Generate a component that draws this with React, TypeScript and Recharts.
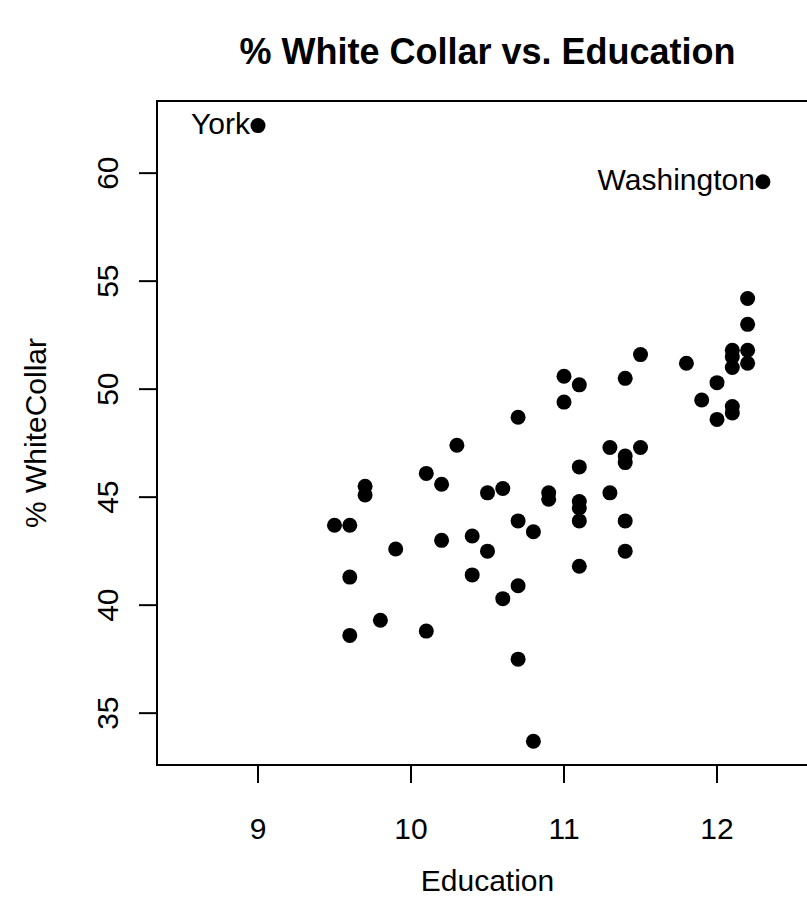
import React from "react";
import {
  ScatterChart, Scatter, XAxis, YAxis, ReferenceArea, Label
} from "recharts";

// county points: education (median years) vs % white collar
const education = [
  11.0, 11.1, 11.0, 10.7, 10.3, 11.1, 10.1, 10.2, 9.7, 9.7,
  10.5, 10.6, 10.9, 10.9, 11.1, 11.1, 11.1, 10.7, 10.8, 9.5,
  9.6, 10.2, 10.4, 10.5, 9.9, 11.1, 9.6, 10.4, 10.7, 10.6,
  9.8, 9.6, 10.1, 10.7, 10.8, 12.2, 12.2, 12.1, 12.1, 12.1,
  12.2, 12.2, 11.5, 11.8, 11.4, 12.0, 11.9, 12.1, 12.1, 12.0,
  11.3, 11.5, 11.4, 11.4, 11.3, 11.4, 11.4, 9.0, 12.3,
];
const whiteCollar = [
  50.6, 50.2, 49.4, 48.7, 47.4, 46.4, 46.1, 45.6, 45.5, 45.1,
  45.2, 45.4, 45.2, 44.9, 44.8, 44.5, 43.9, 43.9, 43.4, 43.7,
  43.7, 43.0, 43.2, 42.5, 42.6, 41.8, 41.3, 41.4, 40.9, 40.3,
  39.3, 38.6, 38.8, 37.5, 33.7, 54.2, 53.0, 51.8, 51.5, 51.0,
  51.8, 51.2, 51.6, 51.2, 50.5, 50.3, 49.5, 49.2, 48.9, 48.6,
  47.3, 47.3, 46.9, 46.6, 45.2, 43.9, 42.5, 62.2, 59.6,
];
const labelled: Record<number, string> = { 57: "York", 58: "Washington" };

const xTicks = [9, 10, 11, 12];
const yTicks = [35, 40, 45, 50, 55, 60];
const xDomain = [8.34, 12.66];
const yDomain = [32.6, 63.34];

const data = education.map((x, i) => ({ x, y: whiteCollar[i], name: labelled[i] }));

const font = "'Liberation Sans', Arial, sans-serif";
const fs = 30;

const Dot = (p: any) => (
  <g>
    <circle cx={p.cx} cy={p.cy} r={7.5} fill="#000" />
    {p.payload.name && (
      <text x={p.cx - 8} y={p.cy + 8} textAnchor="end" fontSize={fs} fontFamily={font} fill="#000">
        {p.payload.name}
      </text>
    )}
  </g>
);

const XTick = (p: any) => (
  <text x={p.x} y={839} textAnchor="middle" fontSize={fs} fontFamily={font} fill="#000">
    {p.payload.value}
  </text>
);

const YTick = (p: any) => (
  <text
    x={118}
    y={p.y}
    textAnchor="middle"
    fontSize={fs}
    fontFamily={font}
    fill="#000"
    transform={`rotate(-90 118 ${p.y})`}
  >
    {p.payload.value}
  </text>
);

export default function App() {
  return (
    <div style={{ position: "absolute", left: 0, top: 0, width: 807, height: 920, overflow: "hidden", background: "#fff" }}>
      <div
        style={{
          position: "absolute", left: 157, width: 661, top: 34, textAlign: "center",
          fontFamily: font, fontWeight: "bold", fontSize: 36, lineHeight: "36px", color: "#000",
          whiteSpace: "nowrap",
        }}
      >
        % White Collar vs. Education
      </div>
      <ScatterChart width={840} height={920} margin={{ top: 101, right: 22, bottom: 0, left: 0 }}>
        <XAxis
          type="number" dataKey="x" domain={xDomain} ticks={xTicks} allowDataOverflow
          axisLine={false} tickSize={18} tickLine={{ stroke: "#000", strokeWidth: 2 }}
          tick={<XTick />} height={155} interval={0}
        >
          <Label
            content={(p: any) => (
              <text x={p.viewBox.x + p.viewBox.width / 2} y={891} textAnchor="middle"
                fontSize={fs} fontFamily={font} fill="#000">Education</text>
            )}
          />
        </XAxis>
        <YAxis
          type="number" dataKey="y" domain={yDomain} ticks={yTicks} allowDataOverflow
          axisLine={false} tickSize={18} tickLine={{ stroke: "#000", strokeWidth: 2 }}
          tick={<YTick />} width={157} interval={0}
        >
          <Label
            content={(p: any) => {
              const cy = p.viewBox.y + p.viewBox.height / 2;
              return (
                <text x={46} y={cy} textAnchor="middle" fontSize={fs} fontFamily={font} fill="#000"
                  transform={`rotate(-90 46 ${cy})`}>% WhiteCollar</text>
              );
            }}
          />
        </YAxis>
        <ReferenceArea
          x1={xDomain[0]} x2={xDomain[1]} y1={yDomain[0]} y2={yDomain[1]}
          fill="none" fillOpacity={0} stroke="#000" strokeWidth={2} ifOverflow="visible"
        />
        <Scatter data={data} shape={Dot} isAnimationActive={false} />
      </ScatterChart>
    </div>
  );
}
